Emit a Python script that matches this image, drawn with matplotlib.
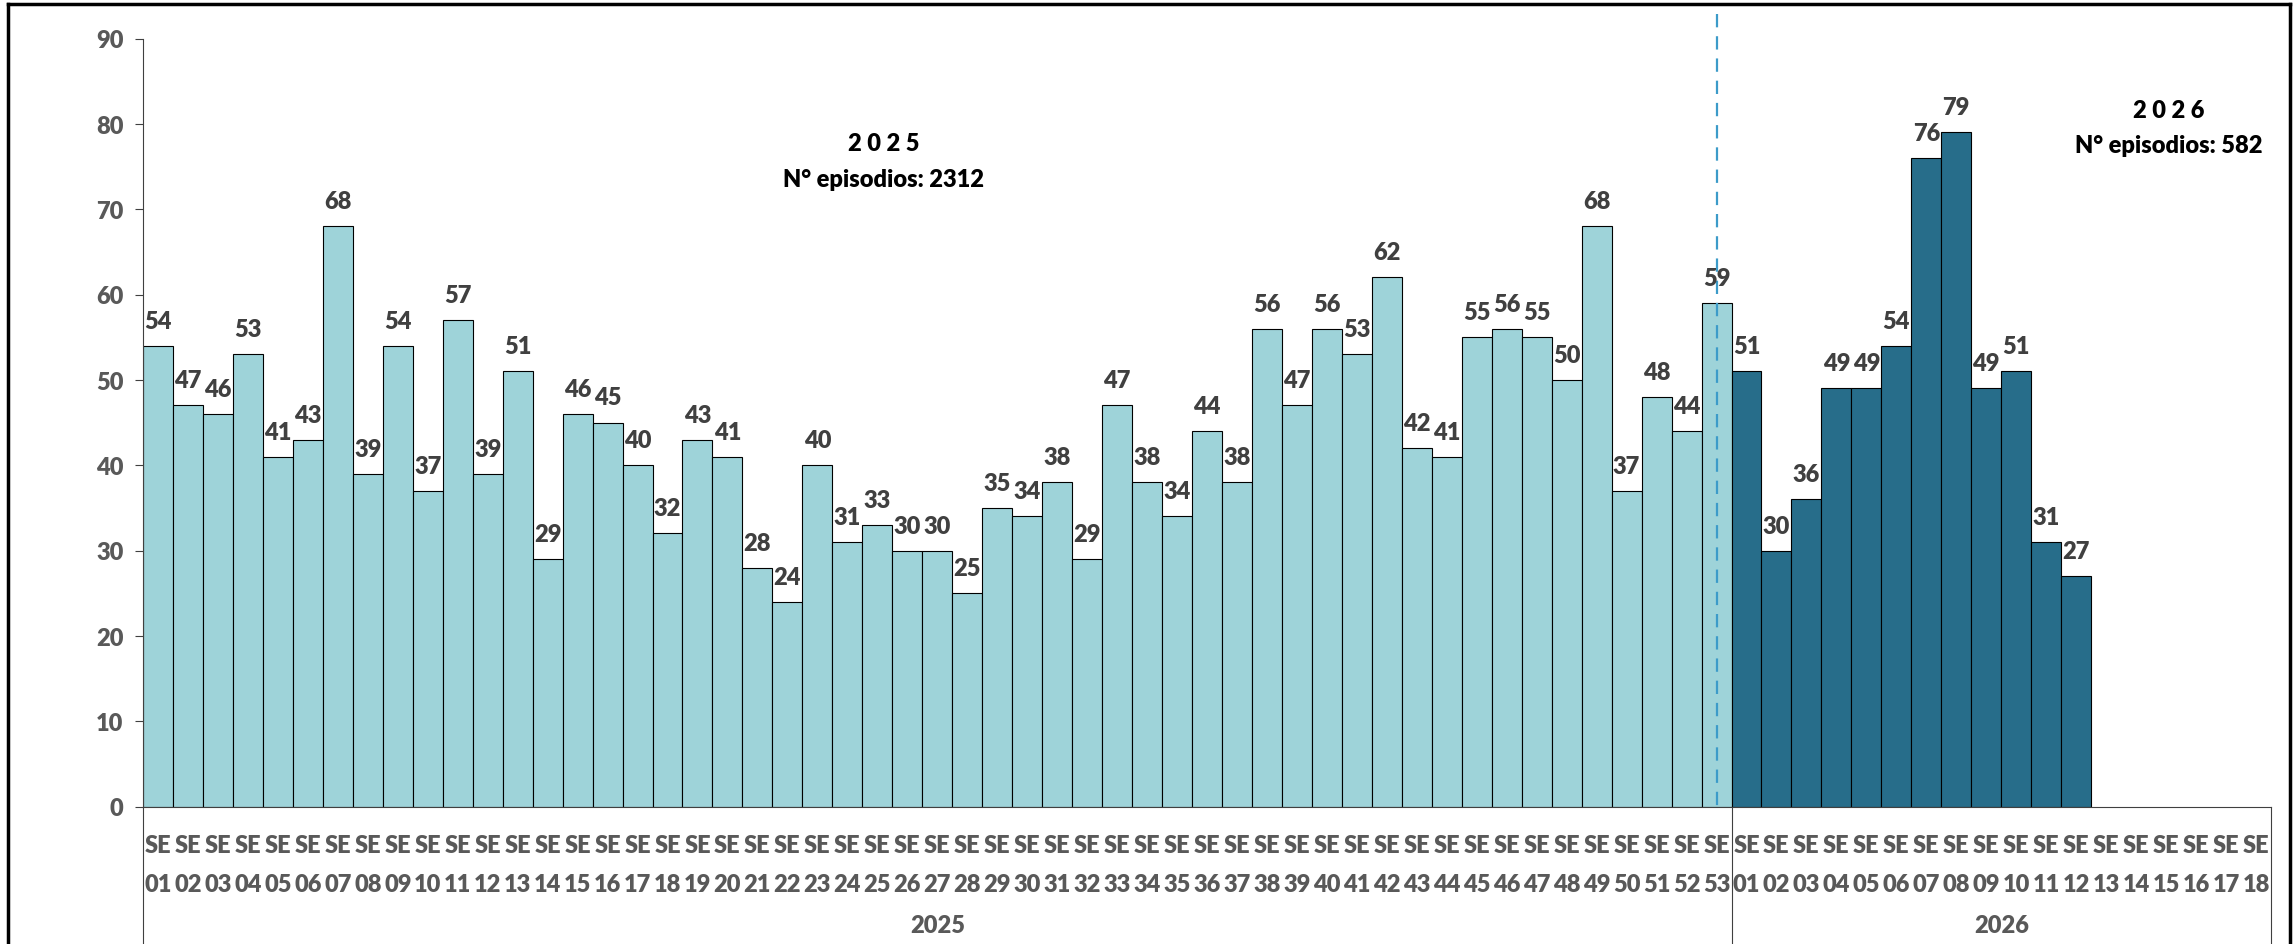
import matplotlib
matplotlib.use("Agg")
import matplotlib.pyplot as plt
from matplotlib.lines import Line2D

plt.rcParams["font.family"] = ["Lato", "DejaVu Sans"]
PESO = 800

# datos: episodios por semana epidemiológica
SEMANAS_2025 = [f"{i:02d}" for i in range(1, 54)]
SEMANAS_2026 = [f"{i:02d}" for i in range(1, 19)]
EPISODIOS_2025 = [54, 47, 46, 53, 41, 43, 68, 39, 54, 37, 57, 39, 51, 29, 46, 45, 40, 32,
                  43, 41, 28, 24, 40, 31, 33, 30, 30, 25, 35, 34, 38, 29, 47, 38, 34, 44,
                  38, 56, 47, 56, 53, 62, 42, 41, 55, 56, 55, 50, 68, 37, 48, 44, 59]
EPISODIOS_2026 = [51, 30, 36, 49, 49, 54, 76, 79, 49, 51, 31, 27]
ANIOS = ["2025", "2026"]
TOTALES = [sum(EPISODIOS_2025), sum(EPISODIOS_2026)]

C_2025 = "#9ED3D9"
C_2026 = "#276D8A"
GRIS = "#595959"
GRIS_OSC = "#404040"

fig = plt.figure(figsize=(22.95, 9.45), dpi=100)
ax = fig.add_axes([143 / 2295, 1 - 807.5 / 945, (2271 - 143) / 2295, 768 / 945])

n25 = len(SEMANAS_2025)
n_total = n25 + len(SEMANAS_2026)
x25 = list(range(n25))
x26 = list(range(n25, n25 + len(EPISODIOS_2026)))

ax.bar(x25, EPISODIOS_2025, width=1.0, color=C_2025, edgecolor="black", linewidth=0.8)
ax.bar(x26, EPISODIOS_2026, width=1.0, color=C_2026, edgecolor="black", linewidth=0.8)

for x, v in zip(x25 + x26, EPISODIOS_2025 + EPISODIOS_2026):
    ax.annotate(str(v), (x, v), xytext=(0, 18), textcoords="offset points",
                ha="center", va="center", fontsize=17, fontweight=PESO, color=GRIS_OSC)

ax.set_xlim(-0.5, n_total - 0.5)
ax.set_ylim(0, 90)
ax.set_yticks(range(0, 91, 10))
ax.tick_params(axis="y", length=6, width=0.8, color="#404040", labelsize=17,
               labelcolor=GRIS, pad=8)
for t in ax.get_yticklabels():
    t.set_fontweight(PESO)
ax.set_xticks([])
for s in ["top", "right"]:
    ax.spines[s].set_visible(False)
ax.spines["left"].set_color("#404040")
ax.spines["bottom"].set_color("#404040")
ax.grid(False)

# etiquetas de categoría (semana / año)
trans = ax.get_xaxis_transform()
for i, lab in enumerate(SEMANAS_2025 + SEMANAS_2026):
    ax.text(i, -0.050, "SE", transform=trans, ha="center", va="center",
            fontsize=17, fontweight=PESO, color=GRIS)
    ax.text(i, -0.101, lab, transform=trans, ha="center", va="center",
            fontsize=17, fontweight=PESO, color=GRIS)
ax.text((n25 - 1) / 2, -0.154, ANIOS[0], transform=trans, ha="center", va="center",
        fontsize=17, fontweight=PESO, color=GRIS)
ax.text(n25 + (len(SEMANAS_2026) - 1) / 2, -0.154, ANIOS[1], transform=trans,
        ha="center", va="center", fontsize=17, fontweight=PESO, color=GRIS)
for xs in [-0.5, n25 - 0.5, n_total - 0.5]:
    ax.plot([xs, xs], [0, -0.2], transform=trans, color="#404040", lw=0.8, clip_on=False)

# línea de corte entre años
ax.plot([n25 - 1, n25 - 1], [1.032, -0.006], transform=trans, color="#3C9BC9",
        lw=1.6, dashes=(6, 4), clip_on=False)

ax.text(24.2, 77.8, "2 0 2 5", ha="center", va="center", fontsize=17, fontweight=PESO)
ax.text(24.2, 73.5, f"N° episodios: {TOTALES[0]}", ha="center", va="center",
        fontsize=17, fontweight=PESO)
ax.text(67.1, 81.6, "2 0 2 6", ha="center", va="center", fontsize=17, fontweight=PESO)
ax.text(67.1, 77.5, f"N° episodios: {TOTALES[1]}", ha="center", va="center",
        fontsize=17, fontweight=PESO)

# marco exterior
W, H = 2295, 945
for xs, ys in [([8, 8], [0, 940]), ([8, 2290], [940, 940]), ([2290, 2290], [940, 0])]:
    fig.add_artist(Line2D([x / W for x in xs], [y / H for y in ys], color="black", lw=2.5))

fig.savefig("out.png", dpi=100)
